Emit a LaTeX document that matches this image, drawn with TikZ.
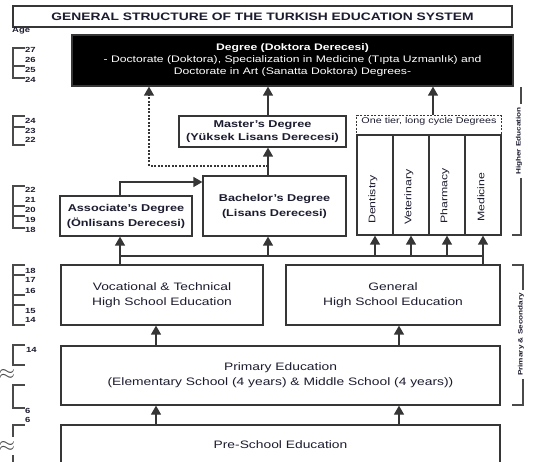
\documentclass[tikz,border=0pt]{standalone}
\usepackage{fontspec}
\setmainfont{Liberation Sans}[FakeStretch=1.28]
\usetikzlibrary{arrows.meta}
\definecolor{ln}{HTML}{363636}
\definecolor{tx}{HTML}{1C1C30}
\definecolor{tk}{HTML}{4A4A4A}
\newcommand\fsz[2]{\fontsize{#1}{#2}\selectfont}
\tikzset{
 box/.style={draw=ln, line width=1.25pt, fill=white, align=center, text=tx, inner sep=0pt, font=\fsz{10.8}{15}},
 bbox/.style={box, font=\bfseries\fsz{9.9}{13}},
 conn/.style={draw=ln, line width=1.25pt},
 arr/.style={conn, -{Triangle[width=10pt,length=9pt]}},
 darr/.style={arr, dash pattern=on 2pt off 1.5pt},
 dconn/.style={conn, dash pattern=on 2pt off 1.5pt},
 tick/.style={draw=tk, line width=1.1pt},
 agelab/.style={anchor=west, inner sep=0pt, text=tx, font=\bfseries\fsz{7.4}{8}},
 collab/.style={anchor=west, rotate=90, inner sep=0pt, text=tx, font=\fsz{9.6}{10}},
 sidelab/.style={rotate=90, inner sep=0pt, text=tx, font=\bfseries\fsz{6.4}{7}},
 apx/.style={inner sep=0pt, text=tk, font=\fsz{20}{20}},
}
\begin{document}
\begin{tikzpicture}[x=1pt,y=-1pt]
\useasboundingbox (0,0) rectangle (533,462);
\clip (0,0) rectangle (533,462);
% title
\node[box, font=\bfseries\fsz{10.8}{12}, minimum width=499pt, minimum height=21pt] (title) at (262.5,16.5) {GENERAL STRUCTURE OF THE TURKISH EDUCATION SYSTEM};
\node[agelab] (age) at (12,31) {Age};
% doctorate
\node[box, fill=black, text=white, font=\fsz{9.5}{12}, minimum width=441pt, minimum height=51pt] (doc) at (292.5,60.5)
 {\textbf{Degree (Doktora Derecesi)}\\- Doctorate (Doktora), Specialization in Medicine (Tıpta Uzmanlık) and\\Doctorate in Art (Sanatta Doktora) Degrees-};
% masters
\node[bbox, minimum width=167pt, minimum height=31pt] (mast) at (262.5,131.5) {Master's Degree\\(Yüksek Lisans Derecesi)};
% bachelor
\node[bbox, font=\bfseries\fsz{9.9}{15}, minimum width=143pt, minimum height=60pt] (bach) at (274.5,206) {Bachelor's Degree\\(Lisans Derecesi)};
% associate
\node[bbox, font=\bfseries\fsz{9.9}{15}, minimum width=132pt, minimum height=40pt] (assoc) at (126,216) {Associate's Degree\\(Önlisans Derecesi)};
% one tier
\node[box, dash pattern=on 2pt off 1.5pt, minimum width=145pt, minimum height=20pt, anchor=north] (one) at (429,115) {};
\node[inner sep=0pt, text=tx, font=\fsz{8.4}{9}] (onelab) at (429,121.5) {One tier, long cycle Degrees};
\node[box, minimum width=36pt, minimum height=100pt] (col1) at (375,185) {};
\node[box, minimum width=36pt, minimum height=100pt] (col2) at (411,185) {};
\node[box, minimum width=36pt, minimum height=100pt] (col3) at (447,185) {};
\node[box, minimum width=36pt, minimum height=100pt] (col4) at (483,185) {};
\node[collab] (l1) at (373,224) {Dentistry};
\node[collab] (l2) at (409,225) {Veterinary};
\node[collab] (l3) at (445,224) {Pharmacy};
\node[collab] (l4) at (481,222) {Medicine};
% high schools
\node[box, minimum width=202pt, minimum height=60pt] (voc) at (162,295) {Vocational \& Technical\\High School Education};
\node[box, minimum width=214pt, minimum height=60pt] (gen) at (393,295) {General\\High School Education};
% primary
\node[box, minimum width=439pt, minimum height=59pt] (prim) at (280.5,375.5) {Primary Education\\(Elementary School (4 years) \& Middle School (4 years))};
\node[box, minimum width=439pt, minimum height=40pt] (pre) at (280.5,445) {Pre-School Education};
% helper coordinates
\coordinate (xA) at (120,0);
\coordinate (xB) at (268,0);
\coordinate (xD) at (149,0);
\coordinate (xE) at (433,0);
\coordinate (xP1) at (156,0);
\coordinate (xP2) at (399,0);
\coordinate (bus) at (0,256);
\coordinate (dsh) at (0,166);
\coordinate (yAs) at (0,182);
% connectors
\draw[arr] (xP1 |- pre.north) -- (xP1 |- prim.south);
\draw[arr] (xP2 |- pre.north) -- (xP2 |- prim.south);
\draw[arr] (xP1 |- prim.north) -- (xP1 |- voc.south);
\draw[arr] (xP2 |- prim.north) -- (xP2 |- gen.south);
\draw[conn] (xA |- bus) -- (col4.south |- bus);
\draw[arr] (xA |- voc.north) -- (xA |- assoc.south);
\draw[arr] (col4.south |- gen.north) -- (col4.south);
\draw[arr] (xB |- bus) -- (xB |- bach.south);
\draw[arr] (col1.south |- bus) -- (col1.south);
\draw[arr] (col2.south |- bus) -- (col2.south);
\draw[arr] (col3.south |- bus) -- (col3.south);
\draw[arr] (xA |- assoc.north) |- (bach.west |- yAs);
\draw[arr] (xB |- bach.north) -- (xB |- mast.south);
\draw[arr] (xB |- mast.north) -- (xB |- doc.south);
\draw[dconn] (xB |- dsh) -- (xD |- dsh);
\draw[darr] (xD |- dsh) -- (xD |- doc.south);
\draw[arr] (xE |- one.north) -- (xE |- doc.south);
% side brackets
\draw[tick] (521,87) -- (521,104);
\draw[tick] (521,178) -- (521,235) -- (512,235);
\node[sidelab] (he) at (519,141) {Higher Education};
\draw[tick] (512,265) -- (523,265) -- (523,290);
\draw[tick] (523,379) -- (523,405) -- (512,405);
\node[sidelab] (ps) at (521,334.5) {Primary \& Secondary};
% age ticks
\draw[tick] (25,48) -- (13,48) -- (13,78) -- (25,78);
\draw[tick] (13,66) -- (25,66);
\draw[tick] (25,116) -- (13,116) -- (13,145) -- (25,145);
\draw[tick] (13,127) -- (25,127);
\draw[tick] (25,186) -- (13,186) -- (13,228) -- (25,228);
\draw[tick] (13,206) -- (25,206);
\draw[tick] (13,216) -- (25,216);
\draw[tick] (25,265) -- (13,265) -- (13,325) -- (25,325);
\draw[tick] (13,275) -- (25,275);
\draw[tick] (13,295) -- (25,295);
\draw[tick] (13,305) -- (25,305);
\draw[tick] (25,345) -- (13,345) -- (13,365) -- (25,365);
\draw[tick] (25,385) -- (13,385) -- (13,408) -- (25,408);
\draw[tick] (25,425) -- (13,425) -- (13,437);
\draw[tick] (13,455) -- (13,470);
\node[apx] (ap1) at (7,374) {$\approx$};
\node[apx] (ap2) at (7,446) {$\approx$};
\node[agelab] (a27) at (25,50) {27};
\node[agelab] (a26) at (25,60) {26};
\node[agelab] (a25) at (25,69.5) {25};
\node[agelab] (a24) at (25,80) {24};
\node[agelab] (b24) at (25,121) {24};
\node[agelab] (b23) at (25,131) {23};
\node[agelab] (b22) at (25,140) {22};
\node[agelab] (c22) at (25,190) {22};
\node[agelab] (c21) at (25,200) {21};
\node[agelab] (c20) at (25,210) {20};
\node[agelab] (c19) at (25,219.5) {19};
\node[agelab] (c18) at (25,230) {18};
\node[agelab] (d18) at (25,271) {18};
\node[agelab] (d17) at (25,280) {17};
\node[agelab] (d16) at (25,291) {16};
\node[agelab] (d15) at (25,311) {15};
\node[agelab] (d14) at (25,320) {14};
\node[agelab] (e14) at (26,350) {14};
\node[agelab] (e6a) at (25,410.5) {6};
\node[agelab] (e6b) at (25,419.5) {6};
\end{tikzpicture}
\end{document}
